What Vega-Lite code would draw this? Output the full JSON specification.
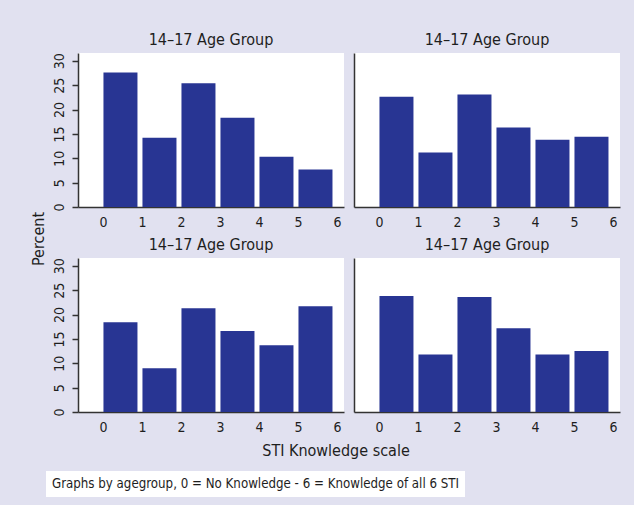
{
  "$schema": "https://vega.github.io/schema/vega-lite/v6.json",
  "background": "#e1e1f0",
  "padding": {"left": 30, "top": 31, "right": 14, "bottom": 8},
  "config": {
    "font": "DejaVu Sans Condensed, Liberation Sans Narrow, sans-serif",
    "view": {"fill": "white", "stroke": null},
    "axis": {
      "labelFont": "DejaVu Sans Condensed, Liberation Sans Narrow, sans-serif",
      "labelFontSize": 14,
      "labelColor": "#1e1e1e",
      "domainColor": "#333333",
      "domainWidth": 1.5,
      "tickColor": "#333333",
      "tickWidth": 1.5,
      "grid": false
    },
    "title": {
      "font": "DejaVu Sans Condensed, Liberation Sans Narrow, sans-serif",
      "fontSize": 16,
      "fontWeight": "normal",
      "color": "#1e1e1e",
      "offset": 5
    }
  },
  "datasets": {
    "p1": [
      {"bin_start": 0, "bin_end": 1, "percent": 27.6},
      {"bin_start": 1, "bin_end": 2, "percent": 14.2},
      {"bin_start": 2, "bin_end": 3, "percent": 25.4},
      {"bin_start": 3, "bin_end": 4, "percent": 18.3},
      {"bin_start": 4, "bin_end": 5, "percent": 10.3},
      {"bin_start": 5, "bin_end": 6, "percent": 7.7}
    ],
    "p2": [
      {"bin_start": 0, "bin_end": 1, "percent": 22.6},
      {"bin_start": 1, "bin_end": 2, "percent": 11.2},
      {"bin_start": 2, "bin_end": 3, "percent": 23.1},
      {"bin_start": 3, "bin_end": 4, "percent": 16.3},
      {"bin_start": 4, "bin_end": 5, "percent": 13.8},
      {"bin_start": 5, "bin_end": 6, "percent": 14.4}
    ],
    "p3": [
      {"bin_start": 0, "bin_end": 1, "percent": 18.4},
      {"bin_start": 1, "bin_end": 2, "percent": 9.0},
      {"bin_start": 2, "bin_end": 3, "percent": 21.3},
      {"bin_start": 3, "bin_end": 4, "percent": 16.6},
      {"bin_start": 4, "bin_end": 5, "percent": 13.7},
      {"bin_start": 5, "bin_end": 6, "percent": 21.7}
    ],
    "p4": [
      {"bin_start": 0, "bin_end": 1, "percent": 23.8},
      {"bin_start": 1, "bin_end": 2, "percent": 11.8},
      {"bin_start": 2, "bin_end": 3, "percent": 23.6},
      {"bin_start": 3, "bin_end": 4, "percent": 17.2},
      {"bin_start": 4, "bin_end": 5, "percent": 11.8},
      {"bin_start": 5, "bin_end": 6, "percent": 12.5}
    ],
    "ylabel": [
      {"label": "Percent"}
    ],
    "note": [
      {"note": "Graphs by agegroup, 0 = No Knowledge - 6 = Knowledge of all 6 STI"}
    ]
  },
  "spacing": 12,
  "vconcat": [
    {
      "spacing": 5,
      "hconcat": [
        {
          "width": 1, "height": 366,
          "view": {"fill": null, "stroke": null},
          "data": {"name": "ylabel"},
          "mark": {"type": "text", "angle": 270, "baseline": "bottom", "align": "center", "dx": -3, "fontSize": 16, "color": "#1e1e1e", "font": "DejaVu Sans Condensed, Liberation Sans Narrow, sans-serif"},
          "encoding": {"text": {"field": "label"}}
        },
        {
          "spacing": 7,
          "vconcat": [
            {
              "spacing": 10,
              "hconcat": [
                {
                  "width": 266, "height": 154,
                  "title": {"text": "14–17 Age Group"},
                  "data": {"name": "p1"},
                  "mark": {"type": "bar", "color": "#283593", "xOffset": 0.5, "x2Offset": -4.5},
                  "encoding": {
                    "x": {"field": "bin_start", "type": "quantitative", "scale": {"domain": [-0.64, 6.18], "nice": false, "zero": false},
                          "axis": {"values": [0, 1, 2, 3, 4, 5, 6], "title": null, "ticks": false, "labelPadding": 8}},
                    "x2": {"field": "bin_end"},
                    "y": {"field": "percent", "type": "quantitative", "scale": {"domain": [0, 31.6], "nice": false},
                          "axis": {"values": [0, 5, 10, 15, 20, 25, 30], "title": null, "tickSize": 6, "labelAngle": 270, "labelAlign": "center", "labelBaseline": "bottom", "labelPadding": 6}},
                    "y2": {"datum": 0}
                  }
                },
                {
                  "width": 266, "height": 154,
                  "title": {"text": "14–17 Age Group"},
                  "data": {"name": "p2"},
                  "mark": {"type": "bar", "color": "#283593", "xOffset": 0.5, "x2Offset": -4.5},
                  "encoding": {
                    "x": {"field": "bin_start", "type": "quantitative", "scale": {"domain": [-0.64, 6.18], "nice": false, "zero": false},
                          "axis": {"values": [0, 1, 2, 3, 4, 5, 6], "title": null, "ticks": false, "labelPadding": 8}},
                    "x2": {"field": "bin_end"},
                    "y": {"field": "percent", "type": "quantitative", "scale": {"domain": [0, 31.6], "nice": false},
                          "axis": {"title": null, "labels": false, "ticks": false, "domain": true}},
                    "y2": {"datum": 0}
                  }
                }
              ]
            },
            {
              "spacing": 10,
              "title": {"text": "STI Knowledge scale", "orient": "bottom", "anchor": "middle", "offset": 9},
              "hconcat": [
                {
                  "width": 266, "height": 154,
                  "title": {"text": "14–17 Age Group"},
                  "data": {"name": "p3"},
                  "mark": {"type": "bar", "color": "#283593", "xOffset": 0.5, "x2Offset": -4.5},
                  "encoding": {
                    "x": {"field": "bin_start", "type": "quantitative", "scale": {"domain": [-0.64, 6.18], "nice": false, "zero": false},
                          "axis": {"values": [0, 1, 2, 3, 4, 5, 6], "title": null, "ticks": false, "labelPadding": 8}},
                    "x2": {"field": "bin_end"},
                    "y": {"field": "percent", "type": "quantitative", "scale": {"domain": [0, 31.6], "nice": false},
                          "axis": {"values": [0, 5, 10, 15, 20, 25, 30], "title": null, "tickSize": 6, "labelAngle": 270, "labelAlign": "center", "labelBaseline": "bottom", "labelPadding": 6}},
                    "y2": {"datum": 0}
                  }
                },
                {
                  "width": 266, "height": 154,
                  "title": {"text": "14–17 Age Group"},
                  "data": {"name": "p4"},
                  "mark": {"type": "bar", "color": "#283593", "xOffset": 0.5, "x2Offset": -4.5},
                  "encoding": {
                    "x": {"field": "bin_start", "type": "quantitative", "scale": {"domain": [-0.64, 6.18], "nice": false, "zero": false},
                          "axis": {"values": [0, 1, 2, 3, 4, 5, 6], "title": null, "ticks": false, "labelPadding": 8}},
                    "x2": {"field": "bin_end"},
                    "y": {"field": "percent", "type": "quantitative", "scale": {"domain": [0, 31.6], "nice": false},
                          "axis": {"title": null, "labels": false, "ticks": false, "domain": true}},
                    "y2": {"datum": 0}
                  }
                }
              ]
            }
          ]
        }
      ]
    },
    {
      "width": 419, "height": 26,
      "view": {"fill": "white", "stroke": null},
      "data": {"name": "note"},
      "mark": {"type": "text", "fontSize": 13.2, "color": "#1e1e1e", "font": "DejaVu Sans Condensed, Liberation Sans Narrow, sans-serif"},
      "encoding": {"text": {"field": "note"}}
    }
  ]
}
